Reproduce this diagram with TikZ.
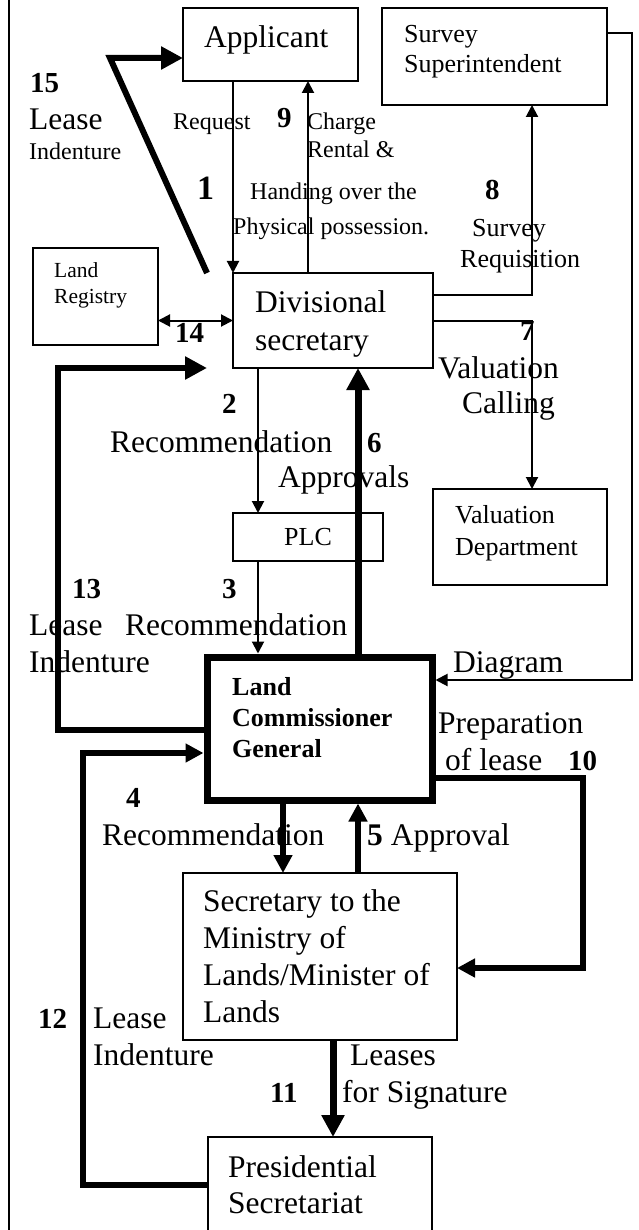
\documentclass[tikz,border=0pt]{standalone}
\usepackage{fontspec}
\setmainfont{Liberation Serif}
\usepackage{tikz}
\usetikzlibrary{arrows.meta,positioning,calc}
\tikzset{
	box/.style={draw, line width=2pt, inner sep=0pt, outer sep=0pt, anchor=north west},
	bigtxt/.style={font=\fontsize{31.5}{37}\selectfont, align=left, inner sep=0pt, anchor=base west},
	midtxt/.style={font=\fontsize{26}{31}\selectfont, align=left, inner sep=0pt, anchor=base west},
	smalltxt/.style={font=\fontsize{24}{28}\selectfont, align=left, inner sep=0pt, anchor=base west},
	flownum/.style={font=\fontsize{29}{34}\selectfont\bfseries, inner sep=0pt, anchor=base west},
	arrow/.style={-{Triangle[length=12pt, width=12pt]}, line width=2pt},
	dblarrow/.style={{Triangle[length=12pt, width=12pt]}-{Triangle[length=12pt, width=12pt]}, line width=2pt},
	thickarrow/.style={-{Triangle[length=18pt, width=18pt]}, line width=5.5pt},
	bigarrow/.style={-{Triangle[length=22pt, width=22pt]}, line width=7pt}
}
\begin{document}
\begin{tikzpicture}[x=1pt, y=-1pt]
	\useasboundingbox (0,0) rectangle (638,1230);
	
	%% -- Rule at the left edge
	\coordinate (ruletop) at (9,-5);
	\coordinate (rulebot) at (9,1240);
	\draw[line width=2.5pt] (ruletop) -- (rulebot);
	
	%% -- Boxes
	\node[box, minimum width=175pt, minimum height=73pt] (app) at (183,8) {};
	\node[box, minimum width=225pt, minimum height=97pt] (sur) at (382,8) {};
	\node[box, minimum width=125pt, minimum height=97pt] (reg) at (33,248) {};
	\node[box, minimum width=200pt, minimum height=95pt] (div) at (233,273) {};
	\node[box, minimum width=150pt, minimum height=48pt,
	font=\fontsize{26}{31}\selectfont] (plc) at (233,513) {PLC};
	\node[box, minimum width=174pt, minimum height=96pt] (val) at (433,489) {};
	\node[box, line width=7pt, outer sep=3.5pt, minimum width=225pt,
	minimum height=143pt] (lcg) at (203.5,653.5) {};
	\node[box, minimum width=274pt, minimum height=167pt] (sec) at (183,873) {};
	\node[box, minimum width=224pt, minimum height=110pt] (pres) at (208,1137) {};
	
	%% -- Box texts (base of the last line)
	\node[bigtxt] (app-t) at (204,48) {Applicant};
	\node[midtxt, font=\fontsize{26}{30}\selectfont] (sur-t) at (404,73) {Survey\\Superintendent};
	\node[smalltxt, font=\fontsize{21.5}{25}\selectfont] (reg-t) at (54,303) {Land\\Registry};
	\node[bigtxt, font=\fontsize{31.5}{38}\selectfont] (div-t) at (255,350) {Divisional\\secretary};
	\node[midtxt, font=\fontsize{26}{32}\selectfont] (val-t) at (455,555) {Valuation\\Department};
	\node[midtxt, font=\fontsize{26}{31}\selectfont\bfseries] (lcg-t) at (232,757)
	{Land\\Commissioner\\General};
	\node[bigtxt] (sec-t) at (203,1022) {Secretary to the\\Ministry of\\Lands/Minister of\\Lands};
	\node[bigtxt, font=\fontsize{31.5}{36}\selectfont] (pres-t) at (228,1213) {Presidential\\Secretariat};
	
	%% -- Step labels
	\node[flownum] (n15) at (30,93) {15};
	\node[bigtxt] (l15a) at (29,130) {Lease};
	\node[smalltxt] (l15b) at (29,160) {Indenture};
	\node[smalltxt] (l1) at (173,130) {Request};
	\node[flownum, font=\fontsize{34}{40}\selectfont\bfseries] (n1) at (197,200) {1};
	\node[flownum] (n9) at (277,128) {9};
	\node[smalltxt] (l9a) at (307,158) {Charge\\Rental \&};
	\node[smalltxt] (l9b) at (250,200) {Handing over the};
	\node[smalltxt] (l9c) at (233,235) {Physical possession.};
	\node[flownum] (n8) at (485,200) {8};
	\node[midtxt] (l8a) at (472,237) {Survey};
	\node[midtxt] (l8b) at (460,268) {Requisition};
	\node[flownum] (n14) at (175,342) {14};
	\node[flownum] (n7) at (520,340) {7};
	\node[bigtxt] (l7a) at (438,378) {Valuation};
	\node[bigtxt] (l7b) at (462,413) {Calling};
	\node[flownum] (n2) at (222,413) {2};
	\node[bigtxt] (l2) at (110,452) {Recommendation};
	\node[flownum] (n6) at (367,452) {6};
	\node[bigtxt] (l6) at (278,487) {Approvals};
	\node[flownum] (n13) at (72,598) {13};
	\node[flownum] (n3) at (222,598) {3};
	\node[bigtxt] (l13) at (29,672) {Lease\\Indenture};
	\node[bigtxt] (l3) at (125,635) {Recommendation};
	\node[bigtxt] (ldia) at (453,672) {Diagram};
	\node[bigtxt] (l10a) at (438,733) {Preparation};
	\node[bigtxt] (l10b) at (445,770) {of lease};
	\node[flownum] (n10) at (568,770) {10};
	\node[flownum] (n4) at (126,807) {4};
	\node[bigtxt] (l4) at (102,845) {Recommendation};
	\node[bigtxt] (l5) at (367,845) {\textbf{5} Approval};
	\node[flownum] (n12) at (38,1028) {12};
	\node[bigtxt] (l12) at (93,1065) {Lease\\Indenture};
	\node[flownum] (n11) at (270,1102) {11};
	\node[bigtxt] (l11a) at (350,1065) {Leases};
	\node[bigtxt] (l11b) at (342,1102) {for Signature};
	
	%% -- Thin connectors
	\draw[arrow] (app.south -| div.north west) -- (div.north west);
	\draw[arrow] ([xshift=75pt]div.north west) -- ([xshift=75pt]div.north west |- app.south);
	\draw[arrow] ([yshift=-22pt]div.north east) -| ([xshift=150pt]sur.south west);
	\draw[arrow] ([yshift=-48pt]div.north east) -| ([xshift=99pt]val.north west);
	\draw[dblarrow] (reg.east |- div.west) -- (div.west);
	\draw[arrow] ([xshift=25pt]div.south west) -- ([xshift=25pt]plc.north west);
	\draw[arrow] ([xshift=25pt]plc.south west) -- ([xshift=25pt]plc.south west |- lcg.north);
	\draw[arrow] ([yshift=-25pt]sur.north east) -- ++(25,0) |- ([yshift=-26.5pt]lcg.north east);
	
	%% -- Thick connectors
	\coordinate (bend15) at (110,58);
	\draw[bigarrow, line width=6pt] ([xshift=-26pt]div.north west) -- (bend15)
	-- ([yshift=-13.5pt]app.west);
	\draw[bigarrow] ([xshift=154.5pt]lcg.north west) -- ([xshift=154.5pt]lcg.north west |- div.south);
	\draw[bigarrow, line width=6pt] ([yshift=-76.5pt]lcg.north west) -- ++(-146,0)
	|- ([xshift=3.5pt]lcg.north west |- div.south);
	\draw[thickarrow] ([yshift=-48pt]pres.north west) -- ++(-125,0) |- ([yshift=-99.5pt]lcg.north west);
	\draw[thickarrow] ([xshift=79.5pt]lcg.south west) -- ([xshift=79.5pt]lcg.south west |- sec.north);
	\draw[thickarrow] ([xshift=175pt]sec.north west) -- ([xshift=175pt]sec.north west |- lcg.south);
	\draw[thickarrow] ([yshift=-124.5pt]lcg.north east) -- ++(147.5,0) |- ([yshift=-95pt]sec.north east);
	\draw[bigarrow] ([xshift=150pt]sec.south west) -- ([xshift=150pt]sec.south west |- pres.north);
	
\end{tikzpicture}
\end{document}
